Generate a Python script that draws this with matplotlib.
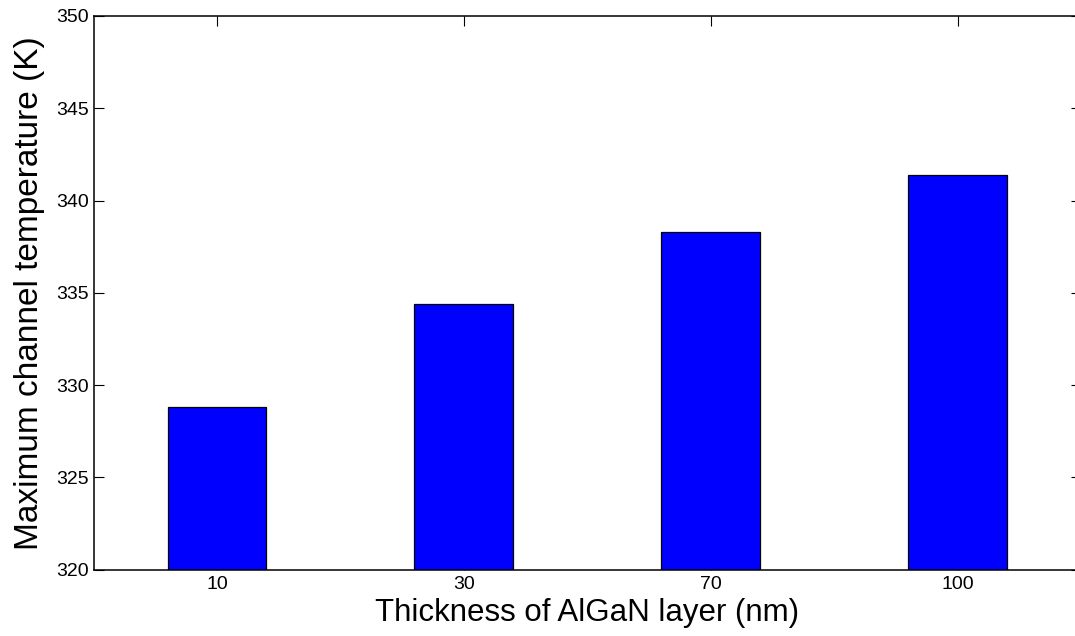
import matplotlib
matplotlib.use("Agg")
import matplotlib.pyplot as plt

# AlGaN barrier thickness (nm) and peak channel temperature (K)
thickness_labels = ["10", "30", "70", "100"]
max_temperature = [328.8, 334.4, 338.3, 341.4]
y_ticks = [320, 325, 330, 335, 340, 345, 350]

plt.rcParams["font.family"] = ["Liberation Sans", "DejaVu Sans"]

fig = plt.figure(figsize=(10.75, 6.36), dpi=100)
ax = fig.add_axes([93.5 / 1075, 1 - 569.5 / 636, (1081 - 93.5) / 1075, (569.5 - 16) / 636])

positions = list(range(1, len(thickness_labels) + 1))
ax.bar(positions, [t - 320 for t in max_temperature], bottom=320, width=0.4,
       color="#0000ff", edgecolor="black", linewidth=0.9, zorder=2)

ax.set_xlim(0.5, 4.5)
ax.set_ylim(320, 350)
ax.set_xticks(positions)
ax.set_xticklabels(thickness_labels)
ax.set_yticks(y_ticks)

ax.tick_params(direction="in", length=7, width=0.8, top=True, right=True,
               labelsize=14, colors="black")
ax.tick_params(axis="y", pad=3.2)
ax.tick_params(axis="x", pad=4.5)
for spine in ax.spines.values():
    spine.set_linewidth(1.1)

ax.set_xlabel("Thickness of AlGaN layer (nm)", fontsize=22.5, labelpad=3.5)
ax.set_ylabel("Maximum channel temperature (K)", fontsize=24, labelpad=8)

fig.savefig("out.png", dpi=100)
